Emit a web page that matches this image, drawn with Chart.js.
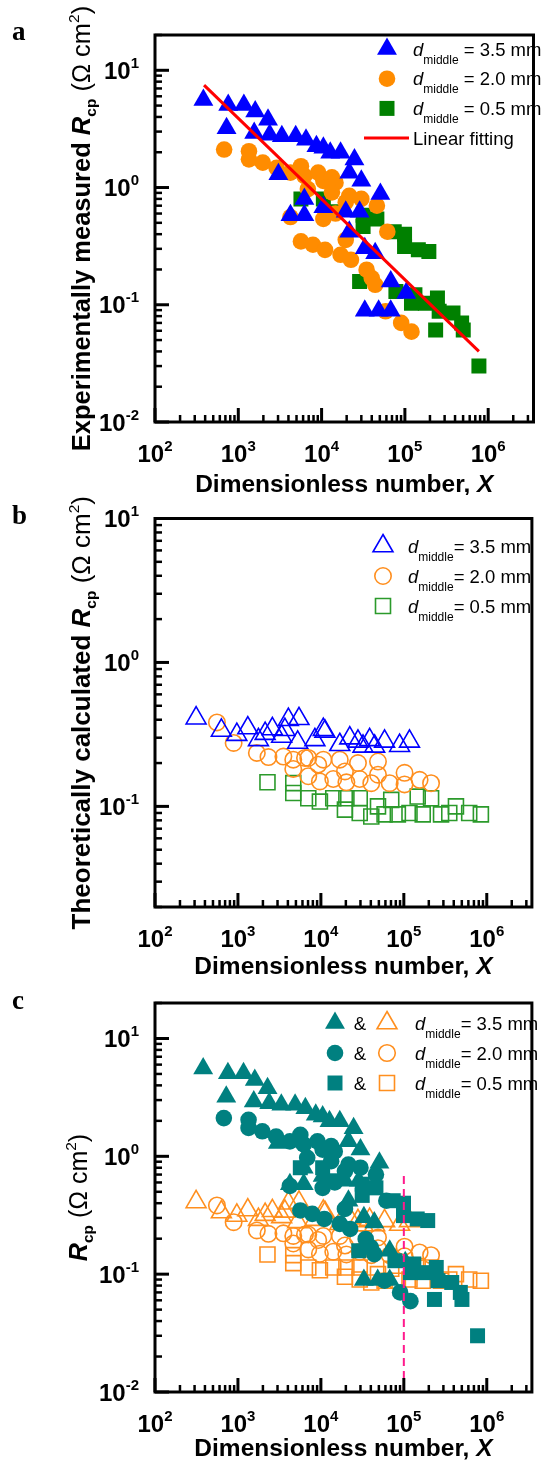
<!DOCTYPE html>
<html>
<head>
<meta charset="utf-8">
<script src="https://cdn.jsdelivr.net/npm/chart.js@4.4.1/dist/chart.umd.min.js"></script>
<style>
  html, body { margin: 0; padding: 0; background: #fff; }
  body { width: 545px; height: 1464px; position: relative; overflow: hidden; }
  canvas { position: absolute; left: 0; }
  #chartA { top: 0; }
  #chartB { top: 495px; }
  #chartC { top: 985px; }
</style>
</head>
<body>
<canvas id="chartA" width="545" height="495"></canvas>
<canvas id="chartB" width="545" height="490"></canvas>
<canvas id="chartC" width="545" height="479"></canvas>
<script>
// Measured contact resistance R_cp against the dimensionless number X, per d_middle
const measX35 = [381, 757, 1167, 1596, 723, 2275, 1552, 2382, 3334, 4887, 6501, 8670, 10500, 12700, 16900, 24800, 21500, 30000, 50800, 3030, 6210, 4230, 6210, 10500, 19500, 28600, 21500, 33000, 44000, 67600, 104000, 33000, 48400, 67600];
const measR35 = [5.57, 5.06, 5.06, 4.45, 3.21, 3.78, 2.92, 2.82, 2.74, 2.74, 2.56, 2.25, 2.18, 1.98, 1.98, 1.73, 1.34, 1.14, 0.88, 1.30, 0.80, 0.58, 0.58, 0.68, 0.62, 0.62, 0.42, 0.304, 0.275, 0.158, 0.126, 0.089, 0.089, 0.089];

const measX20 = [676, 1343, 1343, 1968, 2884, 4230, 5650, 6210, 9100, 10500, 13300, 14700, 6840, 13300, 21500, 30000, 46100, 4230, 10500, 14700, 19500, 61500, 5650, 7870, 11000, 16900, 22500, 19500, 34700, 40000, 44000, 58600, 90200, 120000];
const measR20 = [2.11, 2.04, 1.74, 1.63, 1.47, 1.34, 1.52, 1.26, 1.34, 1.14, 1.22, 1.10, 0.97, 0.91, 0.85, 0.80, 0.70, 0.56, 0.54, 0.60, 0.75, 0.42, 0.347, 0.325, 0.294, 0.267, 0.242, 0.358, 0.199, 0.169, 0.148, 0.088, 0.070, 0.059];

const measX05 = [5650, 10500, 13300, 31500, 46100, 74500, 99100, 99100, 145000, 194000, 31500, 28600, 78000, 120000, 176000, 246000, 258000, 378000, 480000, 234000, 502000, 774000, 132000];
const measR05 = [0.80, 0.80, 0.62, 0.58, 0.54, 0.42, 0.40, 0.314, 0.294, 0.285, 0.466, 0.158, 0.130, 0.103, 0.103, 0.114, 0.088, 0.085, 0.070, 0.061, 0.061, 0.030, 0.122];

// end points of the linear fit (straight line on log-log axes)
const fitX = [388, 774000];
const fitR = [7.47, 0.040];

// Theoretically calculated R_cp
const calcX35 = [313, 631, 970, 1315, 2128, 2600, 4055, 5445, 5250, 8470, 10700, 1766, 3365, 11200, 16900, 22300, 28000, 38700, 58600, 88900, 117000, 32200, 44500, 3680];
const calcR35 = [0.41, 0.337, 0.315, 0.350, 0.320, 0.345, 0.400, 0.406, 0.278, 0.290, 0.341, 0.290, 0.306, 0.332, 0.268, 0.298, 0.283, 0.290, 0.283, 0.264, 0.283, 0.261, 0.261, 0.341];

const calcX20 = [558, 887, 1690, 2333, 3532, 4645, 7047, 9290, 9730, 6430, 4645, 7047, 14100, 19500, 20300, 29400, 40500, 48800, 67500, 102000, 102000, 155000, 213000, 28000, 48800, 16900, 10700];
const calcR20 = [0.383, 0.276, 0.235, 0.220, 0.222, 0.182, 0.162, 0.195, 0.149, 0.217, 0.211, 0.217, 0.155, 0.175, 0.147, 0.155, 0.145, 0.166, 0.145, 0.171, 0.142, 0.153, 0.145, 0.200, 0.205, 0.211, 0.211];

const calcX05 = [2270, 4645, 4645, 7047, 9730, 14100, 19500, 20300, 29400, 29400, 40500, 48800, 58600, 70500, 84700, 117000, 147000, 169000, 213000, 281000, 353000, 425000, 614000, 849000];
const calcR05 = [0.147, 0.145, 0.124, 0.114, 0.108, 0.114, 0.095, 0.114, 0.114, 0.090, 0.085, 0.100, 0.088, 0.111, 0.088, 0.090, 0.117, 0.088, 0.114, 0.088, 0.090, 0.100, 0.090, 0.088];

// vertical marker at X = 1e5 in panel c
const cutoffX = [1e5, 1e5];
const cutoffR = [0.01, 0.75];

// decade exponents that get a 10^n label
const xDecades = [2, 3, 4, 5, 6];
const yDecadesAC = [-2, -1, 0, 1];
const yDecadesB = [-1, 0, 1];
const dMiddle = ['3.5', '2.0', '0.5'];

const pts = (xs, ys) => xs.map((x, i) => ({ x: x, y: ys[i] }));

const SANS = '"Liberation Sans", Arial, sans-serif';
const SERIF = '"Liberation Serif", "Times New Roman", serif';

function font(r) {
  return (r.i ? 'italic ' : '') + (r.b ? 'bold ' : '') + r.s + 'px ' + (r.f || SANS);
}
function runsWidth(ctx, runs) {
  let w = 0;
  runs.forEach(r => { ctx.font = font(r); w += ctx.measureText(r.t).width; });
  return w;
}
// draws a line of mixed text (italic, sub/superscript) with baseline at y
function drawRuns(ctx, runs, x, y, align) {
  const w = runsWidth(ctx, runs);
  let cx = align === 'center' ? x - w / 2 : align === 'right' ? x - w : x;
  ctx.textAlign = 'left';
  ctx.textBaseline = 'alphabetic';
  runs.forEach(r => {
    ctx.font = font(r);
    ctx.fillText(r.t, cx, y + (r.dy || 0));
    cx += ctx.measureText(r.t).width;
  });
}
function drawMarker(ctx, style, r, x, y, fill, stroke, lw) {
  ctx.beginPath();
  if (style === 'triangle') {
    for (let k = 0; k < 3; k++) {
      const a = k * 2 * Math.PI / 3;
      const px = x + Math.sin(a) * r, py = y - Math.cos(a) * r;
      k ? ctx.lineTo(px, py) : ctx.moveTo(px, py);
    }
    ctx.closePath();
  } else if (style === 'circle') {
    ctx.arc(x, y, r, 0, Math.PI * 2);
  } else {
    const s = r * Math.SQRT1_2;
    ctx.rect(x - s, y - s, 2 * s, 2 * s);
  }
  if (fill) { ctx.fillStyle = fill; ctx.fill(); }
  if (stroke) { ctx.strokeStyle = stroke; ctx.lineWidth = lw; ctx.stroke(); }
  ctx.beginPath();
}

const dRuns = (v, gap) => [
  { t: 'd', i: true, s: 18.5 },
  { t: 'middle', s: 12, dy: 8 },
  { t: (gap ? ' ' : '') + '= ' + v + ' mm', s: 18.5 }
];
const tickRuns = n => [{ t: '10', b: true, s: 24 }, { t: String(n), b: true, s: 15, dy: -11 }];

const BLUE = '#0000ff', ORANGE = '#ff8c00', GREEN = '#008000', RED = '#ff0000', TEAL = '#008080';
const LORANGE = '#ff8f1f', LGREEN = '#2b9a2b', PINK = '#ff1a8c';

const rcpTitle = (lead, s) => {
  const runs = lead ? [{ t: lead, b: true, s: s }] : [];
  return runs.concat([
    { t: 'R', b: true, i: true, s: s },
    { t: 'cp', b: true, s: 15.5, dy: 6 },
    { t: ' (\u03A9 cm', s: s },
    { t: '2', s: 15.5, dy: -11 },
    { t: ')', s: s }
  ]);
};

// decoration of each panel, looked up by canvas id
const panels = {
  chartA: {
    yDecades: yDecadesAC, yTitle: rcpTitle('Experimentally measured ', 25.5), yTitleX: 90,
    xTitleDy: 70, letter: 'a', letterY: 40,
    legendX: 387, textX: 413, legendY: 49, legendStep: 29.7,
    legend: [
      { style: 'triangle', r: 11.5, fill: BLUE, label: dRuns(dMiddle[0], true) },
      { style: 'circle', r: 8.3, fill: ORANGE, label: dRuns(dMiddle[1], true) },
      { style: 'rect', r: 10.6, fill: GREEN, label: dRuns(dMiddle[2], true) },
      { line: RED, label: [{ t: 'Linear fitting', s: 18.5 }] }
    ]
  },
  chartB: {
    yDecades: yDecadesB, yTitle: rcpTitle('Theoretically calculated ', 26), yTitleX: 90,
    xTitleDy: 67, letter: 'b', letterY: 29,
    legendX: 383, textX: 408, legendY: 51, legendStep: 30,
    legend: [
      { style: 'triangle', r: 11.5, stroke: BLUE, label: dRuns(dMiddle[0], false) },
      { style: 'circle', r: 8.2, stroke: LORANGE, label: dRuns(dMiddle[1], false) },
      { style: 'rect', r: 10.6, stroke: LGREEN, label: dRuns(dMiddle[2], false) }
    ]
  },
  chartC: {
    yDecades: yDecadesAC, yTitle: rcpTitle('', 25), yTitleX: 87,
    xTitleDy: 64, letter: 'c', letterY: 24,
    legendX: 387, textX: 415, legendY: 38, legendStep: 30,
    legend: [
      { style: 'triangle', r: 11.5, solid: TEAL, amp: true, stroke: LORANGE, label: dRuns(dMiddle[0], false) },
      { style: 'circle', r: 8.3, solid: TEAL, amp: true, stroke: LORANGE, label: dRuns(dMiddle[1], false) },
      { style: 'rect', r: 10.6, solid: TEAL, amp: true, stroke: LORANGE, label: dRuns(dMiddle[2], false) }
    ]
  }
};

// frame, inward log ticks, 10^n labels, titles and legend
const logFrame = {
  id: 'logFrame',
  afterDatasetsDraw(chart) {
    const o = panels[chart.canvas.id];
    const { ctx, chartArea: a, scales: { x, y } } = chart;
    ctx.save();
    ctx.strokeStyle = '#000';
    ctx.fillStyle = '#000';
    const ticks = (scale, horiz) => {
      const lo = Math.floor(Math.log10(scale.min)), hi = Math.ceil(Math.log10(scale.max));
      for (let d = lo; d <= hi; d++) {
        for (let m = 1; m <= 9; m++) {
          const v = m * Math.pow(10, d);
          if (v < scale.min * 0.999 || v > scale.max * 1.001) continue;
          const p = scale.getPixelForValue(v);
          const len = m === 1 ? 14 : 7;
          ctx.lineWidth = m === 1 ? 3 : 2.5;
          ctx.beginPath();
          if (horiz) { ctx.moveTo(p, a.bottom); ctx.lineTo(p, a.bottom - len); }
          else { ctx.moveTo(a.left, p); ctx.lineTo(a.left + len, p); }
          ctx.stroke();
        }
      }
      ctx.beginPath();
    };
    ticks(x, true);
    ticks(y, false);
    ctx.lineWidth = 3;
    ctx.strokeRect(a.left, a.top, a.right - a.left, a.bottom - a.top);

    xDecades.forEach(n => drawRuns(ctx, tickRuns(n), x.getPixelForValue(Math.pow(10, n)), a.bottom + 40, 'center'));
    o.yDecades.forEach(n => drawRuns(ctx, tickRuns(n), a.left - 16, y.getPixelForValue(Math.pow(10, n)) + 8.5, 'right'));

    drawRuns(ctx, [{ t: 'Dimensionless number, ', b: true, s: 24.5 }, { t: 'X', b: true, i: true, s: 24.5 }],
      (a.left + a.right) / 2, a.bottom + o.xTitleDy, 'center');

    ctx.save();
    ctx.translate(o.yTitleX, (a.top + a.bottom) / 2);
    ctx.rotate(-Math.PI / 2);
    drawRuns(ctx, o.yTitle, 0, 0, 'center');
    ctx.restore();

    drawRuns(ctx, [{ t: o.letter, b: true, s: 27, f: SERIF }], 12, o.letterY, 'left');

    o.legend.forEach((it, k) => {
      const ly = o.legendY + k * o.legendStep;
      if (it.line) {
        ctx.strokeStyle = it.line; ctx.lineWidth = 3;
        ctx.beginPath(); ctx.moveTo(o.legendX - 23, ly); ctx.lineTo(o.legendX + 22, ly); ctx.stroke();
        ctx.beginPath();
      } else {
        if (it.solid) drawMarker(ctx, it.style, it.r, o.legendX - 52, ly, it.solid, null, 0);
        if (it.amp) { ctx.fillStyle = '#000'; drawRuns(ctx, [{ t: '&', s: 18.5 }], o.legendX - 27, ly + 6.5, 'center'); }
        drawMarker(ctx, it.style, it.r, o.legendX, ly, it.fill || null, it.stroke || null, 1.6);
      }
      ctx.fillStyle = '#000';
      drawRuns(ctx, it.label, o.textX, ly + 6.5, 'left');
    });
    ctx.restore();
  }
};

const baseOpts = (pad, yMin, yMax) => ({
  responsive: false,
  animation: false,
  events: [],
  layout: { padding: pad },
  scales: {
    x: { type: 'logarithmic', min: 100, max: 3.5e6, display: false },
    y: { type: 'logarithmic', min: yMin, max: yMax, display: false }
  },
  plugins: { legend: { display: false }, tooltip: { enabled: false } }
});

const filled = (data, style, r, color) => ({
  data: data, pointStyle: style, pointRadius: r, backgroundColor: color, borderColor: color, borderWidth: 0
});
const hollow = (data, style, r, color) => ({
  data: data, pointStyle: style, pointRadius: r, backgroundColor: 'rgba(0,0,0,0)', borderColor: color, borderWidth: 1.6
});

// panel a: measured
new Chart(document.getElementById('chartA'), {
  type: 'scatter',
  data: { datasets: [
    { data: pts(fitX, fitR), showLine: true, borderColor: RED, borderWidth: 3, pointRadius: 0 },
    filled(pts(measX35, measR35), 'triangle', 11.5, BLUE),
    filled(pts(measX20, measR20), 'circle', 8.3, ORANGE),
    filled(pts(measX05, measR05), 'rect', 10.6, GREEN)
  ] },
  options: baseOpts({ left: 155, top: 35, right: 2, bottom: 73 }, 0.01, 20),
  plugins: [logFrame]
});

// panel b: calculated
new Chart(document.getElementById('chartB'), {
  type: 'scatter',
  data: { datasets: [
    hollow(pts(calcX35, calcR35), 'triangle', 11.5, BLUE),
    hollow(pts(calcX20, calcR20), 'circle', 8.2, LORANGE),
    hollow(pts(calcX05, calcR05), 'rect', 10.6, LGREEN)
  ] },
  options: baseOpts({ left: 155, top: 23.5, right: 2, bottom: 78 }, 0.02, 10),
  plugins: [logFrame]
});

// panel c: both sets together
new Chart(document.getElementById('chartC'), {
  type: 'scatter',
  data: { datasets: [
    { data: pts(cutoffX, cutoffR), showLine: true, borderColor: PINK, borderWidth: 2, borderDash: [8, 5], pointRadius: 0 },
    filled(pts(measX35, measR35), 'triangle', 11.5, TEAL),
    filled(pts(measX20, measR20), 'circle', 8.3, TEAL),
    filled(pts(measX05, measR05), 'rect', 10.6, TEAL),
    hollow(pts(calcX35, calcR35), 'triangle', 11.5, LORANGE),
    hollow(pts(calcX20, calcR20), 'circle', 8.2, LORANGE),
    hollow(pts(calcX05, calcR05), 'rect', 10.6, LORANGE)
  ] },
  options: baseOpts({ left: 155, top: 18, right: 2, bottom: 72 }, 0.01, 20),
  plugins: [logFrame]
});
</script>
</body>
</html>
